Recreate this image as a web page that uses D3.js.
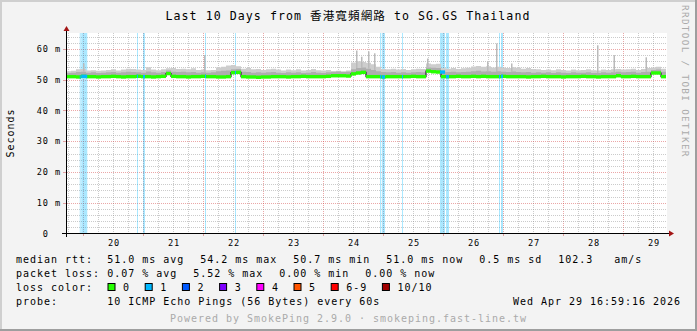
<!DOCTYPE html>
<html>
<head>
<meta charset="utf-8">
<title>SmokePing - SG.GS Thailand</title>
<script src="https://cdn.jsdelivr.net/npm/d3@7"></script>
<style>
body { margin: 0; background: #f3f3f3; }
svg { display: block; font-family: "DejaVu Sans Mono", "Noto Sans CJK TC", monospace; }
.grid line { shape-rendering: crispEdges; stroke-width: 1; stroke-dasharray: 1,1; }
.grid .minor { stroke: #8c8c8c; stroke-opacity: 0.45; }
.grid .major { stroke: #d23c3c; stroke-opacity: 0.45; }
.ticks line { shape-rendering: crispEdges; }
.axis { stroke: #000; shape-rendering: crispEdges; }
.legend text { font-size: 10px; letter-spacing: 0.98px; white-space: pre; fill: #000; }
.tick-label { font-size: 8.6px; letter-spacing: 0.9px; white-space: pre; fill: #000; }
</style>
</head>
<body>
<svg width="697" height="331"></svg>
<script>

// time window: last 10 days
var startTime = new Date(2026, 3, 19, 16, 59, 16),
    endTime = new Date(2026, 3, 29, 16, 59, 16);
var stepHours = 2;

// median rtt per 2h bin (ms)
var median = [
  51.0, 51.0, 50.9, 51.1, 51.0, 51.0, 50.9, 51.0, 51.0, 51.1,
  51.0, 50.9, 51.0, 51.0, 51.1, 51.0, 51.0, 50.9, 51.0, 51.1,
  52.0, 51.1, 51.0, 51.0, 50.9, 51.0, 51.0, 51.1, 51.0, 51.0,
  50.9, 50.9, 51.0, 52.3, 52.4, 51.0, 50.9, 50.9, 50.8, 50.9,
  50.9, 51.0, 51.0, 51.0, 50.9, 51.0, 51.0, 51.1, 51.0, 51.0,
  51.0, 51.0, 51.1, 51.3, 51.3, 51.3, 51.2, 51.9, 52.2, 52.4,
  51.0, 51.0, 51.0, 50.9, 51.0, 51.0, 51.0, 51.0, 51.0, 51.1,
  51.0, 51.0, 52.8, 52.6, 52.5, 51.0, 51.0, 51.0, 51.1, 51.0,
  51.0, 51.1, 51.0, 51.1, 51.0, 51.0, 51.0, 51.1, 51.0, 51.0,
  51.0, 51.0, 50.9, 51.0, 51.0, 51.1, 51.0, 51.0, 51.0, 50.9,
  51.0, 51.0, 51.0, 51.1, 51.0, 51.0, 50.9, 51.0, 51.0, 51.0,
  51.3, 51.0, 51.0, 51.1, 51.0, 51.0, 51.0, 52.2, 52.2, 51.0
];

// upper edge of the dense smoke per bin (ms)
var smokeMid = [
  52.2, 52.3, 52.5, 52.6, 52.3, 52.4, 52.2, 52.3, 52.4, 52.5,
  52.3, 52.4, 52.6, 52.5, 52.4, 52.3, 52.7, 52.4, 52.3, 52.5,
  53.0, 52.6, 52.5, 52.6, 52.4, 52.5, 52.3, 52.4, 52.3, 52.4,
  52.8, 52.9, 53.0, 53.4, 53.5, 52.6, 52.5, 52.3, 52.4, 52.3,
  52.4, 52.5, 52.3, 52.2, 52.4, 52.3, 52.4, 52.2, 52.3, 52.5,
  52.3, 52.2, 52.4, 52.6, 52.7, 52.6, 52.6, 53.4, 53.8, 54.0,
  53.6, 53.2, 52.8, 52.5, 52.4, 52.5, 52.3, 52.4, 52.3, 52.4,
  52.5, 52.4, 54.0, 53.9, 53.8, 52.6, 52.5, 52.6, 52.4, 52.5,
  52.6, 52.8, 52.9, 52.7, 52.8, 52.6, 52.8, 52.6, 52.5, 52.7,
  52.5, 52.4, 52.5, 52.3, 52.4, 52.3, 52.4, 52.2, 52.4, 52.3,
  52.2, 52.4, 52.3, 52.3, 52.4, 52.2, 52.2, 52.4, 52.3, 52.4,
  52.6, 52.4, 52.5, 52.6, 52.3, 52.5, 52.6, 53.2, 53.3, 52.6
];

// max ping per bin (ms)
var smokeHi = [
  52.8, 52.9, 53.4, 53.5, 53.0, 53.1, 52.9, 53.0, 53.2, 53.4,
  53.0, 53.3, 53.6, 53.5, 53.3, 53.2, 54.1, 53.3, 53.1, 53.4,
  53.7, 53.8, 53.5, 53.6, 53.4, 53.7, 53.2, 53.3, 53.1, 53.2,
  54.0, 54.2, 54.6, 54.8, 54.4, 53.6, 53.8, 53.4, 53.5, 53.2,
  53.4, 53.6, 53.3, 53.0, 53.3, 53.1, 53.4, 53.0, 53.2, 53.5,
  53.1, 53.0, 53.2, 52.8, 52.9, 52.7, 53.0, 55.6, 56.0, 55.8,
  55.5, 55.0, 54.2, 53.5, 53.4, 53.6, 53.3, 53.5, 53.2, 53.4,
  53.6, 53.5, 55.3, 55.0, 55.2, 53.7, 53.6, 53.8, 53.5, 53.7,
  53.9, 54.3, 54.5, 54.2, 54.4, 54.0, 54.2, 54.0, 53.8, 54.1,
  53.9, 53.6, 53.8, 53.5, 53.4, 53.2, 53.3, 53.1, 53.4, 53.2,
  53.0, 53.3, 53.1, 53.2, 53.4, 53.1, 53.0, 53.3, 53.2, 53.4,
  53.5, 53.3, 53.4, 53.6, 53.2, 53.5, 53.8, 54.0, 54.2, 53.6
];

// single-sample spikes (hours since start, top in ms)
var spikeHour = [6.8, 55.2, 116.0, 118.0, 120.8, 123.2, 144.4, 168.4, 172.0, 178.0, 212.4, 219.0, 231.8];
var spikeTop = [55.3, 58.0, 59.5, 57.5, 59.2, 58.6, 56.9, 55.9, 61.8, 55.3, 61.2, 58.0, 57.3];

// packet loss events (hours since start, length in hours, lost pings)
var lossHour = [5.5, 6.1, 28.4, 30.8, 55.6, 67.6, 125.6, 126.4, 134.4, 149.6, 152.0, 173.2, 174.0];
var lossLength = [0.4, 2.4, 0.4, 0.8, 0.4, 0.4, 0.5, 1.2, 0.4, 2.0, 1.2, 0.4, 0.8];
var lossPings = [1, 1, 1, 1, 1, 1, 1, 1, 1, 1, 1, 1, 1];

var lossLabels = ["0", "1", "2", "3", "4", "5", "6-9", "10/10"];
var lossColors = ["#26ff00", "#00b8ff", "#0059ff", "#7e00ff", "#ff00ff", "#ff5500", "#ff0000", "#a10000"];

var yTicks = [0, 10, 20, 30, 40, 50, 60];
var rttStats = ["51.0 ms avg", "54.2 ms max", "50.7 ms min", "51.0 ms now", "0.5 ms sd", "102.3   am/s"];
var lossStats = ["0.07 % avg", "5.52 % max", "0.00 % min", "0.00 % now"];

var titleText = "Last 10 Days from 香港寬頻網路 to SG.GS Thailand";
var probeText = "10 ICMP Echo Pings (56 Bytes) every 60s";
var dateText = "Wed Apr 29 16:59:16 2026";
var poweredText = "Powered by SmokePing 2.9.0 · smokeping.fast-line.tw";

var svg = d3.select("svg"),
    width = +svg.attr("width"),
    height = +svg.attr("height");

function hoursToDate(h) { return new Date(+startTime + h * 3600e3); }

var x = d3.scaleTime().domain([startTime, endTime]).range([66, 666]);
var y = d3.scaleLinear().domain([0, 65.2]).range([233.5, 33]);

// background + frame
svg.append("rect").attr("width", width).attr("height", height).attr("fill", "#f3f3f3");
svg.append("rect").attr("width", width).attr("height", 2).attr("fill", "#cfcfcf");
svg.append("rect").attr("width", 2).attr("height", height).attr("fill", "#cfcfcf");
svg.append("rect").attr("x", width - 2).attr("width", 2).attr("height", height).attr("fill", "#9e9e9e");
svg.append("rect").attr("y", height - 2).attr("width", width).attr("height", 2).attr("fill", "#9e9e9e");

// canvas
svg.append("rect").attr("x", 66).attr("y", 33).attr("width", 601).attr("height", 200.5).attr("fill", "#fff");

// grid
var grid = svg.append("g").attr("class", "grid");
var vTimes = d3.timeHour.every(6).range(startTime, endTime);
grid.selectAll("line.v").data(vTimes).enter().append("line")
    .attr("class", function(d) { return d.getHours() === 0 ? "major" : "minor"; })
    .attr("x1", function(d) { return Math.floor(x(d)) + 0.5; })
    .attr("x2", function(d) { return Math.floor(x(d)) + 0.5; })
    .attr("y1", 33).attr("y2", 233);
grid.selectAll("line.h").data(d3.range(2, 65, 2)).enter().append("line")
    .attr("class", function(d) { return d % 10 === 0 ? "major" : "minor"; })
    .attr("x1", 67).attr("x2", 667)
    .attr("y1", function(d) { return Math.round(y(d)) + 0.5; })
    .attr("y2", function(d) { return Math.round(y(d)) + 0.5; });

// small ticks outside the axes
var ticks = svg.append("g").attr("class", "ticks");
ticks.selectAll("line.yt").data(yTicks.slice(1)).enter().append("line")
    .attr("x1", 63).attr("x2", 66)
    .attr("y1", function(d) { return Math.round(y(d)) + 0.5; })
    .attr("y2", function(d) { return Math.round(y(d)) + 0.5; })
    .attr("stroke", "#e0a0a0");
ticks.selectAll("line.xt").data(vTimes.filter(function(d) { return d.getHours() === 0; })).enter().append("line")
    .attr("x1", function(d) { return Math.floor(x(d)) + 0.5; })
    .attr("x2", function(d) { return Math.floor(x(d)) + 0.5; })
    .attr("y1", 234).attr("y2", 236)
    .attr("stroke", "#e0a0a0");

// loss background bands
svg.append("g").selectAll("rect").data(lossHour).enter().append("rect")
    .attr("x", function(d) { return x(hoursToDate(d)); })
    .attr("width", function(d, i) { return x(hoursToDate(d + lossLength[i])) - x(hoursToDate(d)); })
    .attr("y", 33).attr("height", 200)
    .attr("fill", function(d, i) { return lossColors[lossPings[i]]; })
    .attr("fill-opacity", 0.33);

// smoke
var bins = median.map(function(m, i) {
  return { t: hoursToDate(i * stepHours), med: m, mid: smokeMid[i], hi: smokeHi[i] };
});
var last = bins[bins.length - 1];
bins.push({ t: endTime, med: last.med, mid: last.mid, hi: last.hi });

var smokeOuter = d3.area().curve(d3.curveStepAfter)
    .x(function(d) { return x(d.t); })
    .y0(function(d) { return y(d.med); })
    .y1(function(d) { return y(d.hi); });
var smokeInner = d3.area().curve(d3.curveStepAfter)
    .x(function(d) { return x(d.t); })
    .y0(function(d) { return y(d.med); })
    .y1(function(d) { return y(d.mid); });

svg.append("path").datum(bins).attr("d", smokeOuter).attr("fill", "#cdcdcd");
svg.append("path").datum(bins).attr("d", smokeInner).attr("fill", "#aeaeae");

svg.append("g").selectAll("rect").data(spikeHour).enter().append("rect")
    .attr("x", function(d) { return x(hoursToDate(d)); })
    .attr("width", function(d) { return x(hoursToDate(d + 0.6)) - x(hoursToDate(d)); })
    .attr("y", function(d, i) { return y(spikeTop[i]); })
    .attr("height", function(d, i) { return y(smokeMid[Math.floor(d / stepHours)]) - y(spikeTop[i]); })
    .attr("fill", "#bababa");

// median: dark step line underneath, loss-coloured band on top
svg.append("path").datum(bins)
    .attr("d", d3.line().curve(d3.curveStepAfter)
        .x(function(d) { return x(d.t); })
        .y(function(d) { return y(d.med); }))
    .attr("fill", "none").attr("stroke", "#202020").attr("stroke-width", 1.2);

svg.append("g").selectAll("rect").data(bins.slice(0, -1)).enter().append("rect")
    .attr("x", function(d) { return x(d.t); })
    .attr("width", function(d, i) { return x(bins[i + 1].t) - x(d.t); })
    .attr("y", function(d) { return y(d.med) - 1.7; })
    .attr("height", 3.4)
    .attr("fill", lossColors[0]);

svg.append("g").selectAll("rect").data(lossHour).enter().append("rect")
    .attr("x", function(d) { return x(hoursToDate(d)); })
    .attr("width", function(d, i) { return x(hoursToDate(d + lossLength[i])) - x(hoursToDate(d)); })
    .attr("y", function(d) { return y(median[Math.floor(d / stepHours)]) - 1.7; })
    .attr("height", 3.4)
    .attr("fill", function(d, i) { return lossColors[lossPings[i]]; });

// axes with arrows
svg.append("line").attr("class", "axis").attr("x1", 62).attr("x2", 669).attr("y1", 233.5).attr("y2", 233.5);
svg.append("line").attr("class", "axis").attr("x1", 66.5).attr("x2", 66.5).attr("y1", 237).attr("y2", 31);
svg.append("path").attr("d", "M669,230.5L674,233.5L669,236.5Z").attr("fill", "#a31515");
svg.append("path").attr("d", "M63.5,31L66.5,26L69.5,31Z").attr("fill", "#a31515");

// y labels
svg.append("g").selectAll("text").data(yTicks).enter().append("text")
    .attr("class", "tick-label")
    .attr("x", 61).attr("y", function(d) { return y(d) + 3.2; })
    .attr("text-anchor", "end")
    .text(function(d) { return d === 0 ? " 0  " : d + " m"; });

// x labels at noon of each day
var noons = d3.timeDay.range(d3.timeDay.ceil(startTime), endTime).map(function(d) { return d3.timeHour.offset(d, 12); })
    .filter(function(d) { return d < endTime; });
svg.append("g").selectAll("text").data(noons).enter().append("text")
    .attr("class", "tick-label")
    .attr("x", function(d) { return x(d) + 0.5; }).attr("y", 245.5)
    .attr("text-anchor", "middle")
    .text(d3.timeFormat("%d"));

// title, axis title, watermark
svg.append("text").attr("x", 348).attr("y", 19.5).attr("text-anchor", "middle")
    .style("font-size", "11.6px").style("letter-spacing", "1.05px").attr("fill", "#000")
    .text(titleText);
svg.append("text").attr("transform", "translate(14,133) rotate(-90)").attr("text-anchor", "middle")
    .style("font-size", "10px").style("letter-spacing", "0.98px").attr("fill", "#000")
    .text("Seconds");
svg.append("text").attr("transform", "translate(682,5) rotate(90)")
    .style("font-size", "9.4px").style("letter-spacing", "1.3px").attr("fill", "#aaa")
    .text("RRDTOOL / TOBI OETIKER");

// legend
var legend = svg.append("g").attr("class", "legend");
var charW = 7.0, gap = 16, col = 107.3;
var rows = [263, 277, 291, 305];

legend.append("text").attr("x", 16).attr("y", rows[0]).text("median rtt:");
var px = col;
rttStats.forEach(function(s) {
  legend.append("text").attr("x", px).attr("y", rows[0]).text(s);
  px += s.length * charW + gap;
});

legend.append("text").attr("x", 16).attr("y", rows[1]).text("packet loss:");
px = col;
lossStats.forEach(function(s) {
  legend.append("text").attr("x", px).attr("y", rows[1]).text(s);
  px += s.length * charW + gap;
});

legend.append("text").attr("x", 16).attr("y", rows[2]).text("loss color:");
px = 107.5;
lossLabels.forEach(function(s, i) {
  legend.append("rect").attr("x", px + 0.5).attr("y", rows[2] - 7.5).attr("width", 7).attr("height", 7)
      .attr("fill", lossColors[i]).attr("stroke", "#000").attr("stroke-width", 1);
  legend.append("text").attr("x", px + 15.6).attr("y", rows[2]).text(s);
  px += 15.6 + s.length * charW + 14.6;
});

legend.append("text").attr("x", 16).attr("y", rows[3]).text("probe:");
legend.append("text").attr("x", col).attr("y", rows[3]).text(probeText);
legend.append("text").attr("x", 681).attr("y", rows[3]).attr("text-anchor", "end").text(dateText);

legend.append("text").attr("x", 348.5).attr("y", 322).attr("text-anchor", "middle")
    .style("fill", "#aaa").text(poweredText);

</script>
</body>
</html>
